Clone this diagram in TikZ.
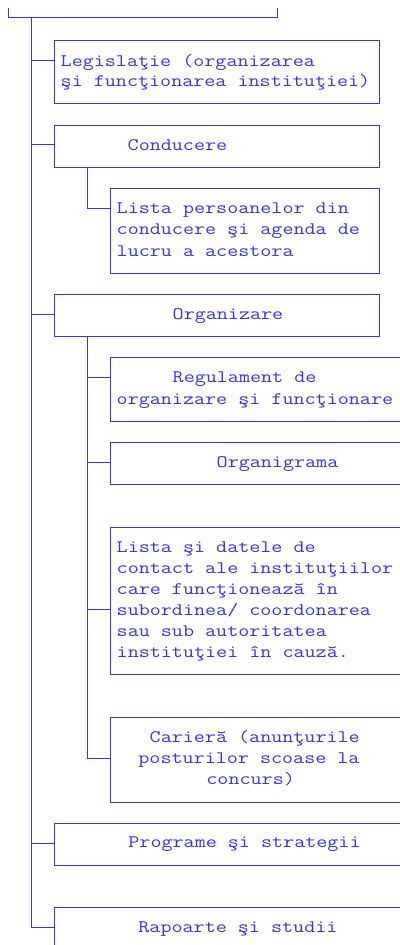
\documentclass[tikz,border=0pt]{standalone}
\usepackage{fontspec}
\newfontfamily\cour[FakeStretch=1.22]{Latin Modern Mono}
\definecolor{ink}{RGB}{51,51,255}
\begin{document}
\begin{tikzpicture}[x=1pt,y=-1pt,
  box/.style={draw=ink, line width=1.6pt, inner sep=0pt, anchor=north west},
  txt/.style={text=ink, font=\cour\fontsize{17.6}{21}\selectfont, inner sep=0pt, anchor=base west},
  wire/.style={draw=ink, line width=1.6pt}]
\useasboundingbox (-0.5,-0.5) rectangle (398.5,944.5);
% boxes
\node[box, minimum width=325pt, minimum height=63pt] (leg) at (53,39) {};
\node[box, minimum width=325pt, minimum height=42pt] (con) at (53,124) {};
\node[box, minimum width=269pt, minimum height=85pt] (lst) at (109,187) {};
\node[box, minimum width=325pt, minimum height=42pt] (org) at (53,293) {};
\node[box, minimum width=301pt, minimum height=64pt] (reg) at (109,356) {};
\node[box, minimum width=301pt, minimum height=42pt] (ogr) at (109,441) {};
\node[box, minimum width=301pt, minimum height=147pt] (dat) at (109,526) {};
\node[box, minimum width=301pt, minimum height=85pt] (car) at (109,716) {};
\node[box, minimum width=357pt, minimum height=42pt] (prg) at (53,822) {};
\node[box, minimum width=357pt, minimum height=42pt] (rap) at (53,906) {};
% texts
\node[txt] (leg1) at (60,65.5) {Legislaţie (organizarea};
\node[txt] (leg2) at (60,86) {şi funcţionarea instituţiei)};
\node[txt] (con1) at (127,150) {Conducere};
\node[txt] (lst1) at (116,212.7) {Lista persoanelor din};
\node[txt] (lst2) at (116,234.3) {conducere şi agenda de};
\node[txt] (lst3) at (116,256) {lucru a acestora};
\node[txt] (org1) at (172,319) {Organizare};
\node[txt] (reg1) at (172,381.7) {Regulament de};
\node[txt] (reg2) at (116,404) {organizare şi funcţionare};
\node[txt] (ogr1) at (216,466.7) {Organigrama};
\node[txt] (dat1) at (116,551.7) {Lista şi datele de};
\node[txt] (dat2) at (116,572.8) {contact ale instituţiilor};
\node[txt] (dat3) at (116,593.9) {care funcţionează în};
\node[txt] (dat4) at (116,615) {subordinea/ coordonarea};
\node[txt] (dat5) at (116,636) {sau sub autoritatea};
\node[txt] (dat6) at (116,657) {instituţiei în cauză.};
\node[txt] (car1) at (149,741.7) {Carieră (anunţurile};
\node[txt] (car2) at (137.7,763) {posturilor scoase la};
\node[txt] (car3) at (205.7,784) {concurs)};
\node[txt] (prg1) at (127.7,847) {Programe şi strategii};
\node[txt] (rap1) at (137.7,931.7) {Rapoarte şi studii};
% connection points
\coordinate (bl) at (8,7);
\coordinate (br) at (277,7);
\coordinate (trunk) at (31,17);
\coordinate (legc) at ([yshift=-21pt]leg.north west);
\coordinate (conc) at ([yshift=-20pt]con.north west);
\coordinate (orgc) at ([yshift=-21pt]org.north west);
\coordinate (prgc) at ([yshift=-21pt]prg.north west);
\coordinate (rapc) at ([yshift=-21pt]rap.north west);
\coordinate (lstc) at ([yshift=-21pt]lst.north west);
\coordinate (regc) at ([yshift=-21pt]reg.north west);
\coordinate (ogrc) at ([yshift=-21pt]ogr.north west);
\coordinate (datc) at ([yshift=-83pt]dat.north west);
\coordinate (carc) at ([yshift=-42pt]car.north west);
\coordinate (s1) at ([xshift=34pt]con.south west);
\coordinate (s2) at ([xshift=34pt]org.south west);
% connectors
\draw[wire] (bl) -- ++(0,10) -| (br);
\draw[wire] (trunk) |- (rapc);
\draw[wire] (trunk |- legc) -- (legc);
\draw[wire] (trunk |- conc) -- (conc);
\draw[wire] (trunk |- orgc) -- (orgc);
\draw[wire] (trunk |- prgc) -- (prgc);
\draw[wire] (s1) |- (lstc);
\draw[wire] (s2) |- (carc);
\draw[wire] (s2 |- regc) -- (regc);
\draw[wire] (s2 |- ogrc) -- (ogrc);
\draw[wire] (s2 |- datc) -- (datc);
\end{tikzpicture}
\end{document}
